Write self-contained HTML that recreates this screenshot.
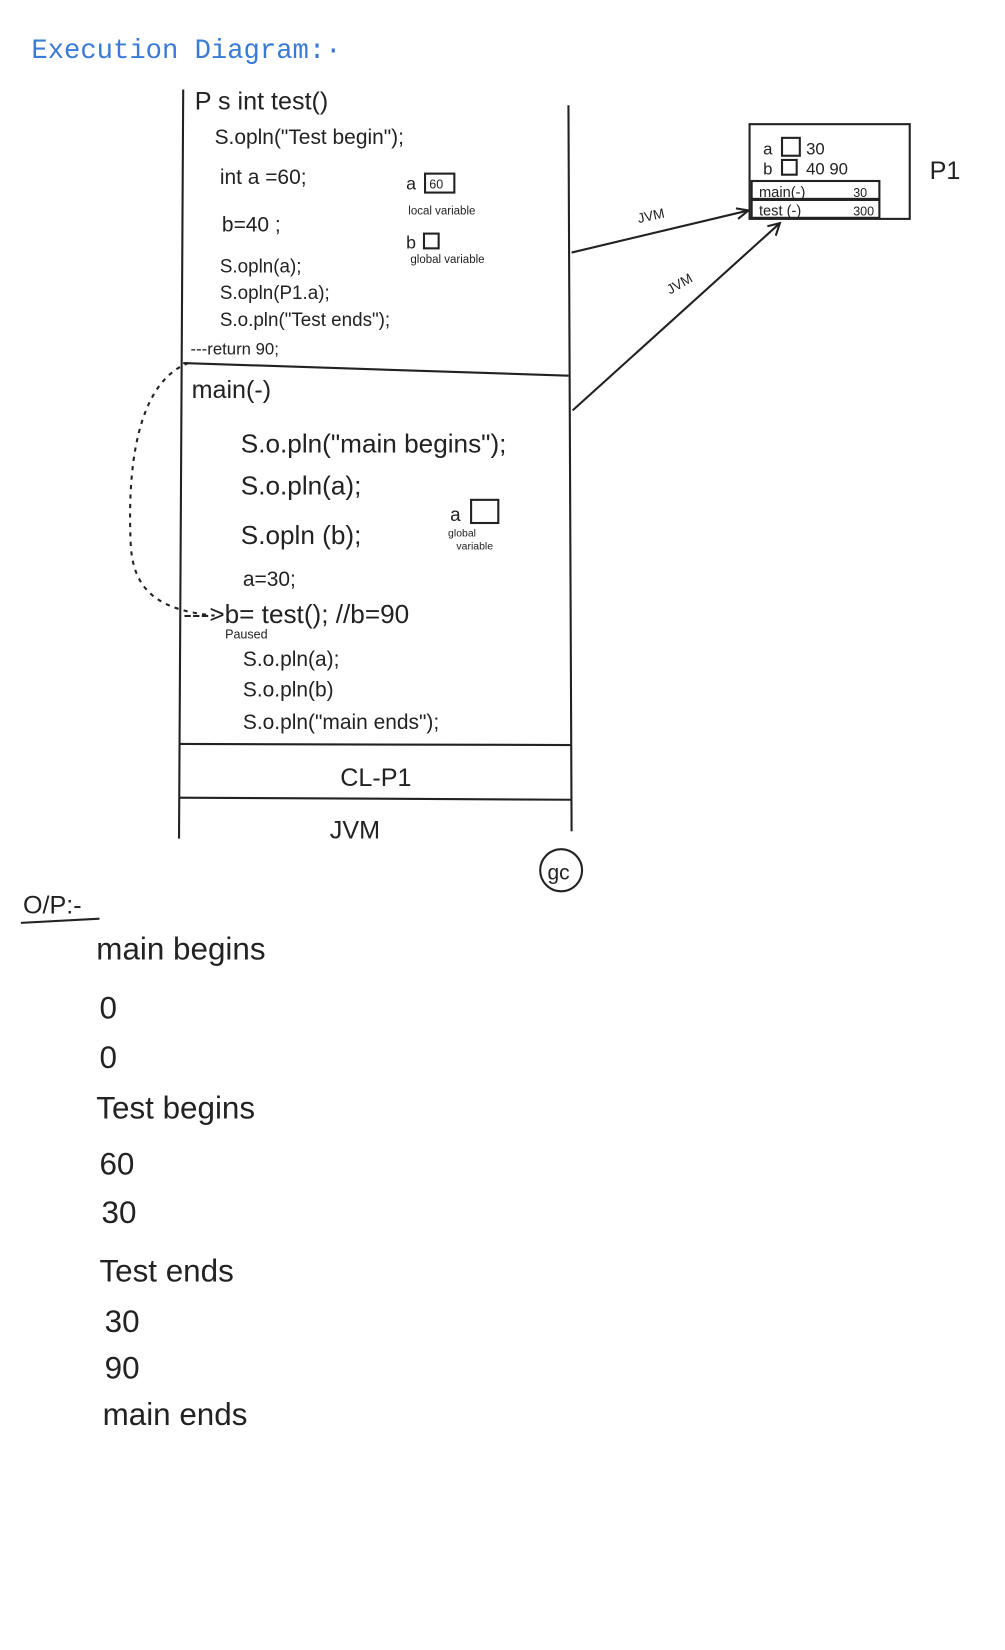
<!DOCTYPE html>
<html><head><meta charset="utf-8"><style>
html,body{margin:0;padding:0;background:#fff;width:1005px;height:1650px;overflow:hidden}
svg{display:block}
text{font-family:"Liberation Sans",sans-serif;fill:#222}
.h{font-family:"Liberation Mono",monospace}
</style></head><body>
<svg width="1005" height="1650" viewBox="0 0 960 1568" preserveAspectRatio="none" xmlns="http://www.w3.org/2000/svg">
<rect width="960" height="1568" fill="#fff"/>
<text x="30" y="55" font-size="26" style="fill:#3a7bd5" class="h">Execution Diagram:·</text>
<g stroke="#222" stroke-width="2" fill="none">
<line x1="175" y1="85" x2="171" y2="797"/>
<line x1="543" y1="100" x2="546" y2="790"/>
<line x1="175" y1="345" x2="543" y2="357"/>
<line x1="171" y1="707" x2="546" y2="708"/>
<line x1="171" y1="758" x2="546" y2="760"/>
<path d="M546 240 L715 200"/>
<path d="M703 198 L715 200 L705 208"/>
<path d="M547 390 L745 212"/>
<path d="M733 215 L745 212 L741 224"/>
<rect x="716" y="118" width="153" height="90"/>
<rect x="718" y="172" width="122" height="17"/>
<rect x="718" y="190" width="122" height="17"/>
<rect x="406" y="165" width="28" height="18"/>
<rect x="405" y="222" width="14" height="14"/>
<rect x="450" y="475" width="26" height="22"/>
<rect x="747" y="131" width="17" height="17"/>
<rect x="747" y="152" width="14" height="14"/>
<path d="M180 345 C140 360 120 420 125 520 C128 560 150 580 205 585" stroke-dasharray="4 5"/>
<circle cx="536" cy="827" r="20"/>
<line x1="20" y1="877" x2="95" y2="873"/>
</g>
<g font-size="20">
<text x="186" y="104" font-size="24">P s int test()</text>
<text x="205" y="137">S.opln("Test begin");</text>
<text x="210" y="175">int a =60;</text>
<text x="388" y="180" font-size="17">a</text><text x="410" y="179" font-size="12">60</text>
<text x="390" y="204" font-size="11">local variable</text>
<text x="212" y="220">b=40 ;</text>
<text x="388" y="236" font-size="17">b</text>
<text x="392" y="250" font-size="11">global variable</text>
<text x="210" y="259" font-size="18">S.opln(a);</text>
<text x="210" y="284" font-size="18">S.opln(P1.a);</text>
<text x="210" y="310" font-size="18">S.o.pln("Test ends");</text>
<text x="182" y="337" font-size="16">---return 90;</text>
<text x="183" y="378" font-size="24">main(-)</text>
<text x="230" y="430" font-size="25">S.o.pln("main begins");</text>
<text x="230" y="470" font-size="25">S.o.pln(a);</text>
<text x="230" y="517" font-size="25">S.opln (b);</text>
<text x="430" y="495" font-size="18">a</text>
<text x="428" y="510" font-size="10">global</text><text x="436" y="522" font-size="10">variable</text>
<text x="232" y="557">a=30;</text>
<text x="175" y="592" font-size="25">---&gt;b= test(); //b=90</text>
<text x="215" y="607" font-size="12">Paused</text>
<text x="232" y="633">S.o.pln(a);</text>
<text x="232" y="662">S.o.pln(b)</text>
<text x="232" y="693">S.o.pln("main ends");</text>
<text x="325" y="747" font-size="24">CL-P1</text>
<text x="315" y="797" font-size="24">JVM</text>
<text x="523" y="836" font-size="20">gc</text>
<text x="610" y="212" font-size="13" transform="rotate(-12 610 212)">JVM</text>
<text x="640" y="280" font-size="13" transform="rotate(-30 640 280)">JVM</text>
<text x="729" y="147" font-size="16">a</text><text x="770" y="147" font-size="16">30</text>
<text x="729" y="166" font-size="16">b</text><text x="770" y="166" font-size="16">40 90</text>
<text x="725" y="187" font-size="14">main(-)</text><text x="815" y="187" font-size="12">30</text>
<text x="725" y="205" font-size="14">test (-)</text><text x="815" y="205" font-size="12">300</text>
<text x="888" y="170" font-size="24">P1</text>
<text x="22" y="868" font-size="24">O/P:-</text>
</g>
<g font-size="30" class="h">
<text x="92" y="912">main begins</text>
<text x="95" y="968">0</text>
<text x="95" y="1015">0</text>
<text x="92" y="1063">Test begins</text>
<text x="95" y="1116">60</text>
<text x="97" y="1162">30</text>
<text x="95" y="1218">Test ends</text>
<text x="100" y="1266">30</text>
<text x="100" y="1310">90</text>
<text x="98" y="1354">main ends</text>
</g>
</svg>
</body></html>
